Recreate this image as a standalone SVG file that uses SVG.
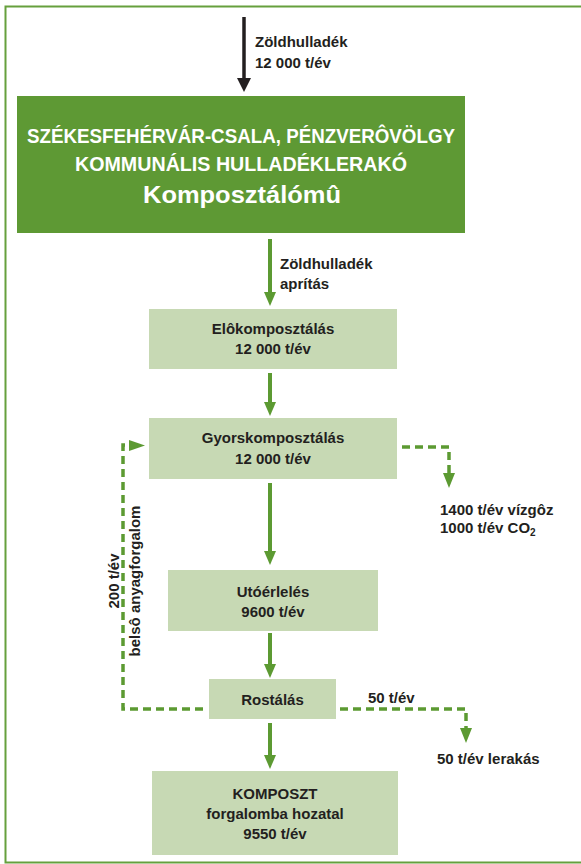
<svg xmlns="http://www.w3.org/2000/svg" width="581" height="864" viewBox="0 0 581 864">
<style>
.t{font-family:"Liberation Sans",Arial,sans-serif;font-weight:bold;font-size:15px;fill:#231f20}
.c{text-anchor:middle}
.h{font-family:"Liberation Sans",Arial,sans-serif;fill:#ffffff;text-anchor:middle}
.box{fill:#c7d9b4}
.ln{stroke:#5c9a32;stroke-width:4;fill:none}
.dl{stroke:#5c9a32;stroke-width:3.5;fill:none;stroke-dasharray:8 5}
.ah{fill:#5c9a32}
</style>
<rect width="581" height="864" fill="#ffffff"/>
<path d="M590,6.5 H5.5 V862.5 H590" fill="none" stroke="#66a03d" stroke-width="2"/>
<g id="connectors">
<line x1="244" y1="17" x2="244" y2="80" stroke="#231f20" stroke-width="3.5"/>
<polygon points="237,78 251,78 244,92" fill="#231f20"/>
<line class="ln" x1="270" y1="239" x2="270" y2="294"/>
<polygon class="ah" points="264,292 276,292 270,306"/>
<line class="ln" x1="270" y1="373" x2="270" y2="404"/>
<polygon class="ah" points="264,402 276,402 270,416"/>
<line class="ln" x1="270" y1="483" x2="270" y2="553"/>
<polygon class="ah" points="264,551 276,551 270,565"/>
<line class="ln" x1="270" y1="633" x2="270" y2="666"/>
<polygon class="ah" points="264,664 276,664 270,678"/>
<line class="ln" x1="270" y1="723" x2="270" y2="757"/>
<polygon class="ah" points="264,755 276,755 270,769"/>
<path class="dl" d="M203,709 H123 V445 H130"/>
<polygon class="ah" points="129,440 129,451 145,445.5"/>
<path class="dl" d="M402,447 H449 V474"/>
<polygon class="ah" points="443,473 455,473 449,488"/>
<path class="dl" d="M340,709 H466 V729"/>
<polygon class="ah" points="460,728 472,728 466,743"/>
</g>
<g id="input-label">
<text class="t" x="255" y="47">Zöldhulladék</text>
<text class="t" x="255" y="68">12 000 t/év</text>
</g>
<g id="title">
<rect x="17" y="96" width="448" height="137" fill="#5e9934"/>
<text class="h" x="241" y="143" font-size="20.5" font-weight="bold" textLength="428" lengthAdjust="spacingAndGlyphs">SZÉKESFEHÉRVÁR-CSALA, PÉNZVERÔVÖLGY</text>
<text class="h" x="241" y="171" font-size="20.5" font-weight="bold" textLength="332" lengthAdjust="spacingAndGlyphs">KOMMUNÁLIS HULLADÉKLERAKÓ</text>
<text class="h" x="242" y="203" font-size="24" font-weight="bold" textLength="198" lengthAdjust="spacingAndGlyphs">Komposztálómû</text>
</g>
<g id="shred-label">
<text class="t" x="280" y="269">Zöldhulladék</text>
<text class="t" x="280" y="289">aprítás</text>
</g>
<g id="elokomposztalas">
<rect class="box" x="149" y="309" width="248" height="60"/>
<text class="t c" x="273" y="334">Elôkomposztálás</text>
<text class="t c" x="273" y="354">12 000 t/év</text>
</g>
<g id="gyorskomposztalas">
<rect class="box" x="149" y="418" width="248" height="61"/>
<text class="t c" x="273" y="443">Gyorskomposztálás</text>
<text class="t c" x="273" y="464">12 000 t/év</text>
</g>
<g id="emission">
<text class="t" x="440" y="515">1400 t/év vízgôz</text>
<text class="t" x="440" y="533">1000 t/év CO<tspan font-size="10" dy="3">2</tspan></text>
</g>
<g id="recycle-label">
<text class="t c" transform="translate(119,581) rotate(-90)">200 t/év</text>
<text class="t c" transform="translate(140,581) rotate(-90)">belsô anyagforgalom</text>
</g>
<g id="utoerleles">
<rect class="box" x="168" y="570" width="210" height="61"/>
<text class="t c" x="273" y="597">Utóérlelés</text>
<text class="t c" x="273" y="617">9600 t/év</text>
</g>
<g id="rostalas">
<rect class="box" x="209" y="679" width="127" height="40"/>
<text class="t c" x="272.5" y="705">Rostálás</text>
</g>
<g id="reject-label">
<text class="t" x="368" y="703">50 t/év</text>
<text class="t" x="437" y="764">50 t/év lerakás</text>
</g>
<g id="komposzt">
<rect class="box" x="152" y="771" width="246" height="84"/>
<text class="t c" x="275" y="799">KOMPOSZT</text>
<text class="t c" x="275" y="819">forgalomba hozatal</text>
<text class="t c" x="275" y="839">9550 t/év</text>
</g>
</svg>
